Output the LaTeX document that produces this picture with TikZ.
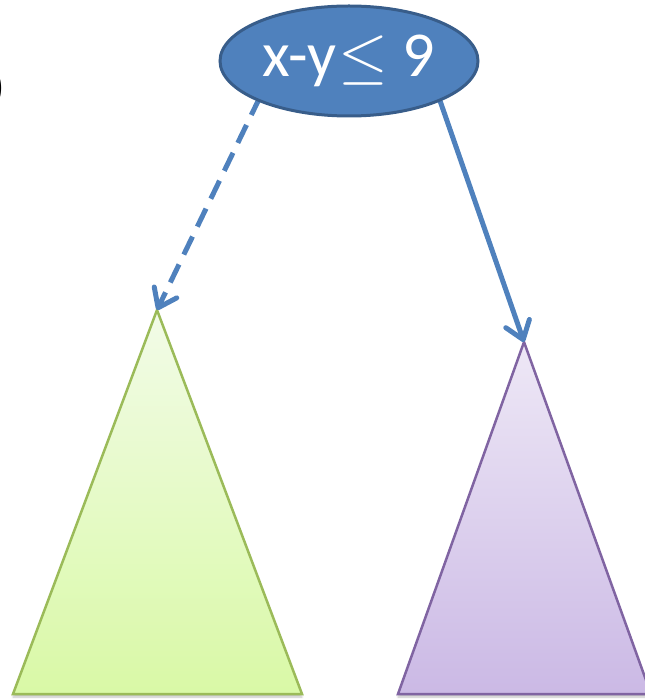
\RequirePackage{fix-cm}
\documentclass[tikz,border=0pt]{standalone}
\usepackage{fontspec}
\setmainfont{Carlito}
\usetikzlibrary{shapes.geometric,arrows.meta,shadows.blur}
\definecolor{acc}{HTML}{4F81BD}
\definecolor{accdark}{HTML}{385D8A}
\definecolor{grnline}{HTML}{9BBB59}
\definecolor{grntop}{HTML}{F2FBE8}
\definecolor{grnbot}{HTML}{D9F9A6}
\definecolor{purline}{HTML}{8064A2}
\definecolor{purtop}{HTML}{EEE8F6}
\definecolor{purbot}{HTML}{CBB9E5}
\tikzset{
  rootnode/.style={ellipse, draw=accdark, line width=3pt, fill=acc, text=white,
    minimum width=258pt, minimum height=110pt, inner sep=0pt,
    font=\fontsize{64}{70}\selectfont},
  edgeline/.style={draw=acc, line width=5pt,
    -{Straight Barb[length=17pt,width=25pt,line width=5pt,round]}},
  dashedge/.style={edgeline, dash pattern=on 20pt off 11pt},
  tri/.style={line width=2.5pt, line join=miter,
    blur shadow={shadow xshift=0pt, shadow yshift=-3pt, shadow blur steps=6, shadow opacity=25}},
}
\begin{document}
\begin{tikzpicture}[x=1pt,y=-1pt]
\useasboundingbox (0,0) rectangle (644,700);
% partial glyph at left edge
\node[anchor=east, inner sep=0pt, font=\fontsize{44}{50}\selectfont] (paren) at (5,88) {)};
% triangles
\coordinate (Lapex) at (157,310);
\coordinate (Rapex) at (524,342);
\path[tri, draw=grnline, top color=grntop, bottom color=grnbot]
  (Lapex) -- (302,694) -- (13,694) -- cycle;
\path[tri, draw=purline, top color=purtop, bottom color=purbot]
  (Rapex) -- (651,694) -- (398,694) -- cycle;
% arrows
\coordinate (ls) at (260,97);
\coordinate (rs) at (438,95);
\draw[dashedge] (ls) -- (Lapex);
\draw[edgeline] (rs) -- (Rapex);
% root
\node[rootnode] (root) at (349,61) {x-y\kern2pt$\leq$\ 9};
\end{tikzpicture}
\end{document}
